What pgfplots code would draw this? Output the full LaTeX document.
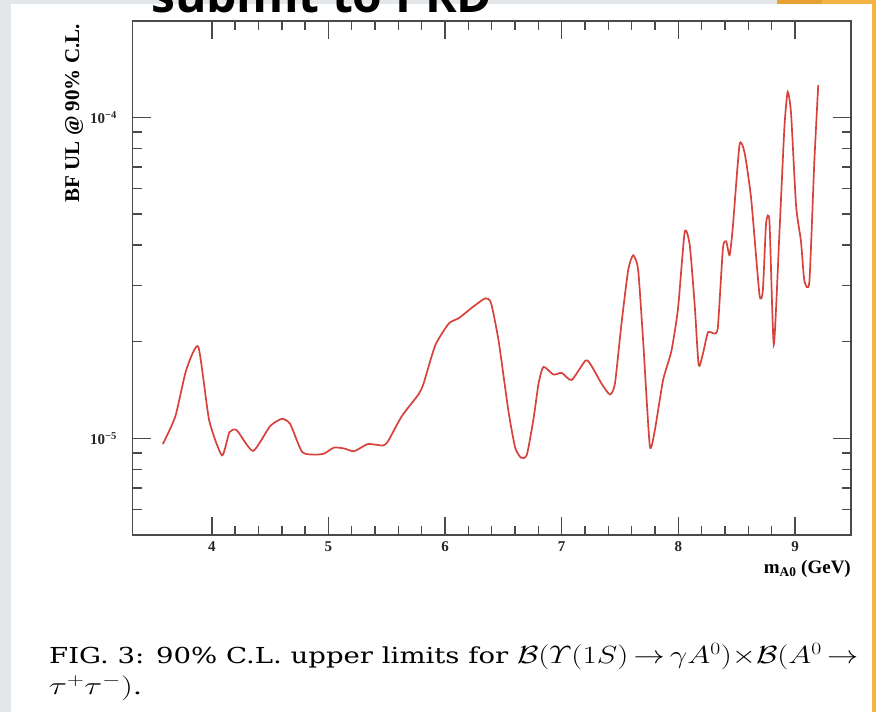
\documentclass[border=0pt]{standalone}
\usepackage{amsmath}
\usepackage{graphicx}
\usepackage{pgfplots}
\pgfplotsset{compat=1.18}
\usepackage{fontspec}
\setmainfont{Liberation Serif}
\newfontfamily\osans{Open Sans}
\newfontfamily\capfont{DejaVu Serif}
\definecolor{bgrey}{HTML}{E3E7EA}
\definecolor{org1}{HTML}{E8A032}
\definecolor{org2}{HTML}{F6B443}
\definecolor{curve}{HTML}{D8423C}
\definecolor{axgrey}{HTML}{4A4A4A}
\begin{document}
\begin{tikzpicture}
\useasboundingbox (0pt,0pt) rectangle (876pt,712pt);
\clip (0pt,0pt) rectangle (876pt,712pt);
\fill[bgrey] (0pt,0pt) rectangle (876pt,712pt);
\fill[white] (11pt,0pt) rectangle (872pt,708pt);
\fill[org1] (777pt,708pt) rectangle (822pt,712pt);
\fill[org2] (822pt,708pt) rectangle (876pt,712pt);
\fill[org2] (872pt,0pt) rectangle (876pt,712pt);
\node[anchor=base west, inner sep=0pt, font=\osans\bfseries\fontsize{48}{48}\selectfont] at (151pt,699pt) {submit to PRD};
\begin{axis}[
 at={(132.5pt,177pt)}, anchor=south west,
 scale only axis, width=718.5pt, height=514.3pt,
 xmin=3.32, xmax=9.48, ymode=log, ymin=5e-6, ymax=2e-4,
 xtick={4,5,6,7,8,9}, xticklabels={4,5,6,7,8,9}, minor x tick num=4,
 ytick={1e-5,1e-4}, yticklabels={10\textsuperscript{−5},10\textsuperscript{−4}},
 minor ytick={6e-6,7e-6,8e-6,9e-6,2e-5,3e-5,4e-5,5e-5,6e-5,7e-5,8e-5,9e-5},
 major tick length=18pt, minor tick length=9pt,
 axis line style={axgrey, line width=1.8pt},
 every tick/.style={axgrey, line width=1.4pt},
 tick label style={font=\bfseries\fontsize{15}{15}\selectfont, text=black!85},
 xticklabel style={yshift=-3pt},
 yticklabel style={xshift=-12pt},
]
\addplot[curve, line width=1.7pt, smooth, tension=0.35] coordinates {
(3.580,9.6e-6) (3.687,1.17e-5) (3.780,1.63e-5) (3.884,1.93e-5) (3.977,1.14e-5)
(4.087,8.85e-6) (4.151,1.045e-5) (4.214,1.06e-5) (4.353,9.14e-6) (4.498,1.09e-5)
(4.599,1.15e-5) (4.671,1.11e-5) (4.773,9.08e-6) (4.874,8.9e-6) (4.961,8.96e-6)
(5.048,9.36e-6) (5.135,9.3e-6) (5.221,9.12e-6) (5.337,9.6e-6) (5.467,9.5e-6)
(5.511,9.8e-6) (5.627,1.17e-5) (5.771,1.37e-5) (5.815,1.48e-5) (5.916,1.95e-5)
(6.032,2.28e-5) (6.119,2.37e-5) (6.234,2.56e-5) (6.344,2.73e-5) (6.394,2.64e-5)
(6.459,2.01e-5) (6.544,1.21e-5) (6.601,9.35e-6) (6.652,8.7e-6) (6.701,8.89e-6)
(6.758,1.15e-5) (6.801,1.48e-5) (6.843,1.67e-5) (6.929,1.58e-5) (7.0,1.60e-5)
(7.085,1.52e-5) (7.205,1.75e-5) (7.256,1.68e-5) (7.342,1.48e-5) (7.413,1.37e-5)
(7.456,1.48e-5) (7.513,2.29e-5) (7.57,3.35e-5) (7.613,3.72e-5) (7.655,3.35e-5)
(7.698,2.01e-5) (7.755,9.48e-6) (7.798,1.06e-5) (7.869,1.52e-5) (7.940,1.87e-5)
(7.997,2.54e-5) (8.054,4.39e-5) (8.097,4.01e-5) (8.140,2.6e-5) (8.174,1.69e-5)
(8.211,1.84e-5) (8.254,2.14e-5) (8.311,2.12e-5) (8.339,2.23e-5) (8.382,3.91e-5)
(8.410,4.11e-5) (8.439,3.72e-5) (8.467,4.56e-5) (8.524,8.2e-5) (8.567,7.78e-5)
(8.624,5.58e-5) (8.695,2.81e-5) (8.724,2.88e-5) (8.752,4.68e-5) (8.781,4.73e-5)
(8.818,1.96e-5) (8.866,4.33e-5) (8.909,9.31e-5) (8.937,1.2e-4) (8.966,1.03e-4)
(9.009,5.31e-5) (9.051,4.11e-5) (9.080,3.1e-5) (9.123,3.07e-5) (9.165,7.21e-5)
(9.199,1.26e-4)
};
\end{axis}
\node[rotate=90, anchor=base east, inner sep=0pt, font=\bfseries\fontsize{21}{21}\selectfont] at (79pt,688pt) {BF UL @ 90\% C.L.};
\node[anchor=base east, inner sep=0pt, font=\bfseries\fontsize{19}{19}\selectfont] at (851pt,138pt) {m\textsubscript{A0} (GeV)};
\node[anchor=base west, inner sep=0pt, font=\capfont\fontsize{22}{22}\selectfont] at (49pt,48pt) {\resizebox{809pt}{\height}{FIG. 3: 90\% C.L. upper limits for {\fontsize{25}{25}\selectfont$\mathcal{B}(\varUpsilon(1S)\mathrel{\mkern-2mu\rightarrow\mkern-2mu}\gamma A^0){\times}\mathcal{B}(A^0\mathrel{\mkern-2mu\rightarrow}$}}};
\node[anchor=base west, inner sep=0pt, font=\capfont\fontsize{22}{22}\selectfont] at (49pt,17pt) {\resizebox{93pt}{\height}{{\fontsize{25}{25}\selectfont$\tau^+\tau^-)$}.}};
\end{tikzpicture}
\end{document}
